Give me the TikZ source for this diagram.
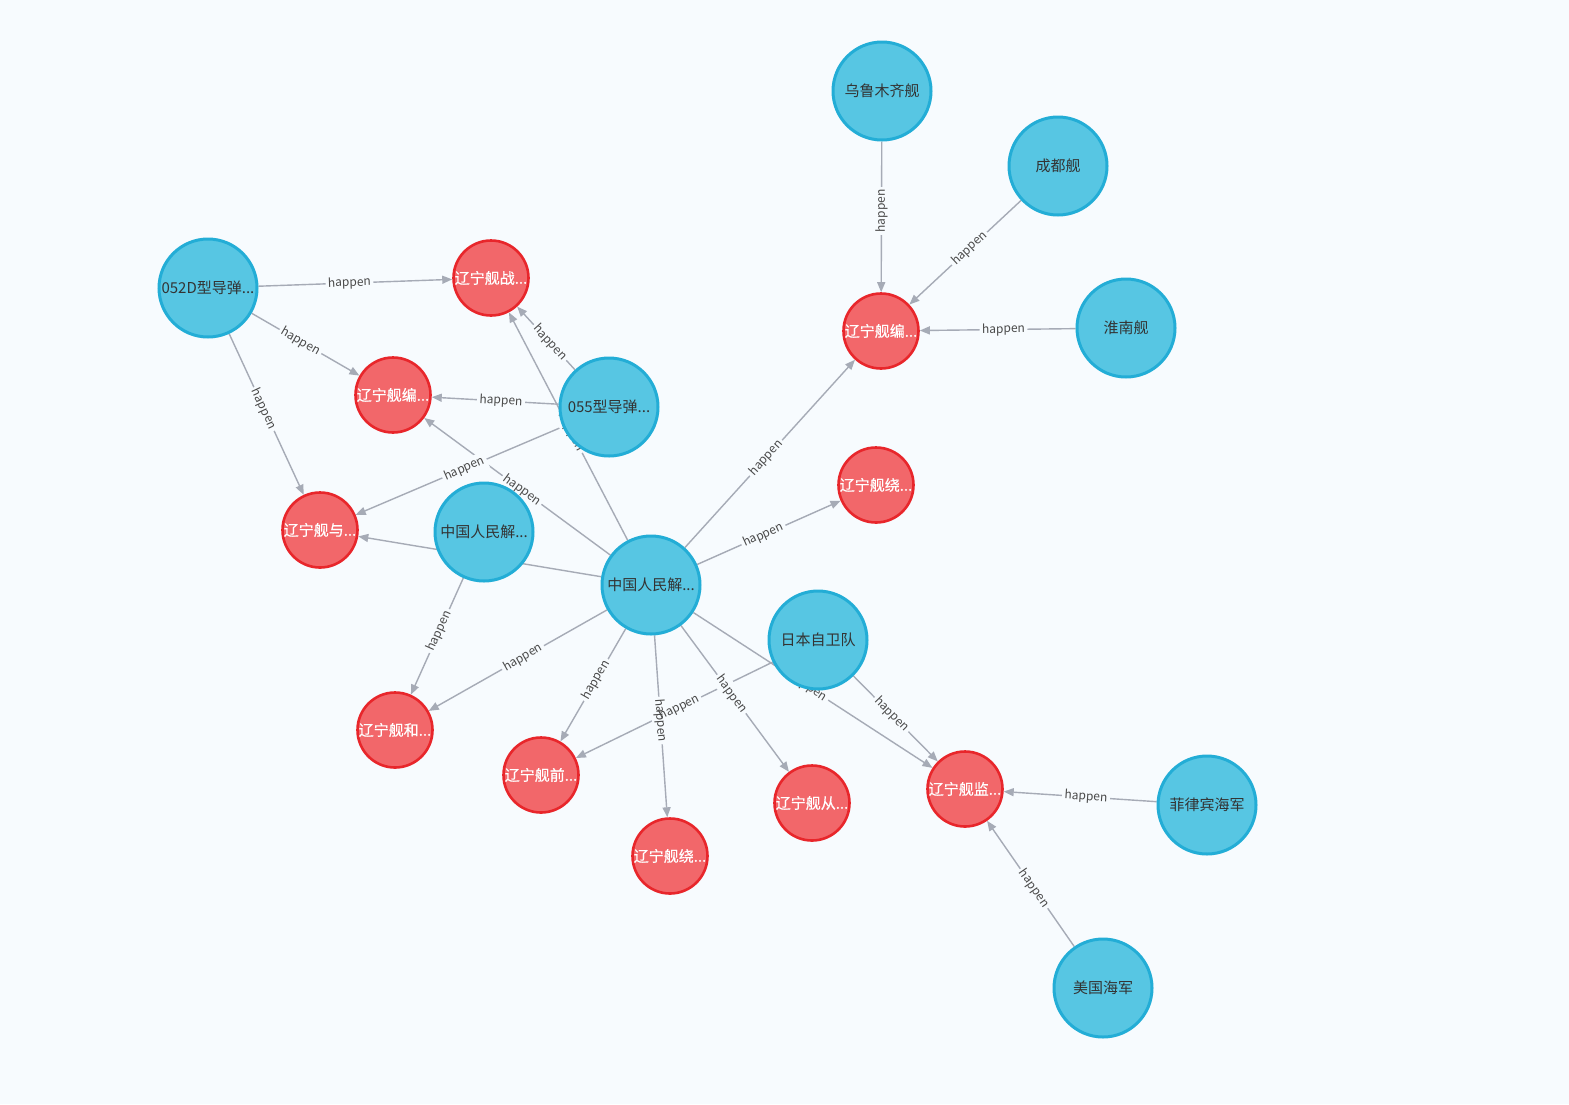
\documentclass[tikz,border=0pt]{standalone}
\usepackage{fontspec}
\setmainfont{Noto Sans CJK SC}
\newfontfamily\rfont[FakeBold=0.5]{Noto Sans CJK SC}
\usetikzlibrary{arrows.meta}
\definecolor{bgc}{HTML}{F7FBFE}
\definecolor{bfill}{HTML}{57C6E3}
\definecolor{bdraw}{HTML}{23ADD6}
\definecolor{rfill}{HTML}{F2676A}
\definecolor{rdraw}{HTML}{E8262B}
\definecolor{ecol}{HTML}{A6ABB6}
\definecolor{tcol}{HTML}{333333}
\definecolor{lcol}{HTML}{4A4A4A}
\pgfdeclarelayer{bglayer}
\pgfdeclarelayer{edgelayer}
\pgfdeclarelayer{lblbg}
\pgfdeclarelayer{lbltxt}
\pgfsetlayers{bglayer,edgelayer,lblbg,lbltxt,main}
\tikzset{
  bnode/.style={circle, fill=bfill, draw=bdraw, line width=3pt, minimum size=98pt, inner sep=0pt, text=tcol, font=\fontsize{15}{15}\selectfont},
  rnode/.style={circle, fill=rfill, draw=rdraw, line width=2.6pt, minimum size=75pt, inner sep=0pt, text=white, font=\rfont\fontsize{15}{15}\selectfont},
  edge/.style={draw=ecol, line width=1.4pt, -{Triangle[length=10pt,width=8pt]}},
  lbl/.style={midway, sloped, inner sep=2.5pt, text=lcol, font=\fontsize{12}{12}\selectfont},
}
\newcommand\mkedge[2]{%
  \begin{pgfonlayer}{edgelayer}\draw[edge] (#1) -- (#2);\end{pgfonlayer}
  \begin{pgfonlayer}{lblbg}\path (#1.center) -- (#2.center) node[lbl, fill=bgc]{\phantom{happen}};\end{pgfonlayer}
  \begin{pgfonlayer}{lbltxt}\path (#1.center) -- (#2.center) node[lbl]{happen};\end{pgfonlayer}}
\begin{document}
\begin{tikzpicture}[x=1pt,y=-1pt]
\begin{pgfonlayer}{bglayer}
\fill[bgc] (0,0) rectangle (1569,1104);
\end{pgfonlayer}
\useasboundingbox (0,0) rectangle (1569,1104);
% blue nodes
\node[bnode] (wlmq) at (882,91) {乌鲁木齐舰};
\node[bnode] (cd) at (1058,166) {成都舰};
\node[bnode] (hn) at (1126,328) {淮南舰};
\node[bnode] (d052) at (208,288) {052D型导弹...};
\node[bnode] (d055) at (609,407) {055型导弹...};
\node[bnode] (zgl) at (484,532) {中国人民解...};
\node[bnode] (zgc) at (651,585) {中国人民解...};
\node[bnode] (rb) at (818,640) {日本自卫队};
\node[bnode] (flb) at (1207,805) {菲律宾海军};
\node[bnode] (mg) at (1103,988) {美国海军};
% red nodes
\node[rnode] (zhan) at (491,278) {辽宁舰战...};
\node[rnode] (bianl) at (393,395) {辽宁舰编...};
\node[rnode] (yu) at (320,530) {辽宁舰与...};
\node[rnode] (bianr) at (881,331) {辽宁舰编...};
\node[rnode] (raoa) at (876,485) {辽宁舰绕...};
\node[rnode] (he) at (395,730) {辽宁舰和...};
\node[rnode] (qian) at (541,775) {辽宁舰前...};
\node[rnode] (raob) at (670,856) {辽宁舰绕...};
\node[rnode] (cong) at (812,803) {辽宁舰从...};
\node[rnode] (jian) at (965,789) {辽宁舰监...};
% edges
\mkedge{wlmq}{bianr}
\mkedge{cd}{bianr}
\mkedge{hn}{bianr}
\mkedge{d052}{zhan}
\mkedge{d052}{bianl}
\mkedge{d052}{yu}
\mkedge{d055}{zhan}
\mkedge{d055}{bianl}
\mkedge{d055}{yu}
\mkedge{zgc}{zhan}
\mkedge{zgc}{bianl}
\mkedge{zgc}{yu}
\mkedge{zgl}{he}
\mkedge{zgc}{he}
\mkedge{zgc}{bianr}
\mkedge{zgc}{raoa}
\mkedge{zgc}{qian}
\mkedge{zgc}{raob}
\mkedge{zgc}{cong}
\mkedge{zgc}{jian}
\mkedge{rb}{qian}
\mkedge{rb}{jian}
\mkedge{flb}{jian}
\mkedge{mg}{jian}
\end{tikzpicture}
\end{document}
